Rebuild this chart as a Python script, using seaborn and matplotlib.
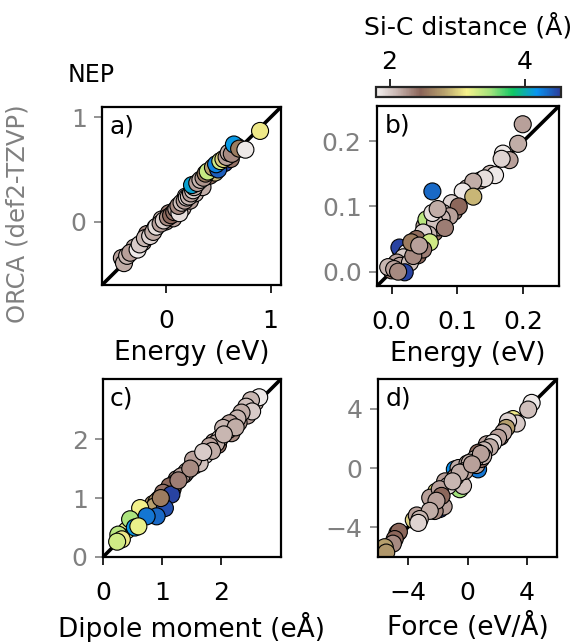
import numpy as np
import pandas as pd
import matplotlib
matplotlib.use("Agg")
import matplotlib.pyplot as plt
import seaborn as sns
from matplotlib.colors import LinearSegmentedColormap, Normalize
from matplotlib.cm import ScalarMappable

# ---------------- data (NEP on x, ORCA on y, Si-C distance as colour) -------------
energy_nep = [-0.42, -0.30, -0.22, -0.18, -0.10, -0.04, 0.00, 0.03, 0.07, 0.11, 0.16, 0.19,
              0.23, 0.28, 0.32, 0.35, 0.42, 0.47, 0.56, 0.62, 0.68,
              -0.40, -0.37, -0.34, -0.27, -0.25, -0.20, -0.15, -0.12, -0.09, -0.05, -0.02, 0.02,
              0.05, 0.08, 0.10, 0.13, 0.12, 0.15, 0.18, 0.20, 0.22, 0.24, 0.26, 0.27, 0.25, 0.30,
              0.33, 0.36, 0.38, 0.40, 0.45, 0.50, 0.48, 0.52, 0.55, 0.58, 0.60, 0.63, 0.65, 0.70,
              0.76, 0.90]
energy_orca = [-0.35, -0.25, -0.20, -0.12, -0.06, 0.02, 0.00, 0.08, 0.03, 0.10, 0.13, 0.24,
               0.20, 0.27, 0.35, 0.33, 0.44, 0.47, 0.56, 0.60, 0.72,
               -0.40, -0.33, -0.30, -0.27, -0.22, -0.16, -0.14, -0.10, -0.05, -0.02, 0.01, 0.04,
               0.06, 0.09, 0.12, 0.08, 0.15, 0.18, 0.20, 0.23, 0.24, 0.27, 0.30, 0.33, 0.35, 0.37,
               0.40, 0.42, 0.46, 0.48, 0.52, 0.50, 0.55, 0.58, 0.60, 0.62, 0.66, 0.65, 0.74, 0.70,
               0.69, 0.87]
energy_dist = [2.20, 2.15, 2.25, 2.30, 2.20, 2.10, 2.25, 2.35, 2.20, 2.45, 2.15, 2.00,
               2.20, 2.10, 2.20, 2.15, 2.50, 2.90, 4.50, 2.40, 2.05,
               2.15, 2.10, 2.20, 1.85, 2.00, 2.10, 1.95, 2.15, 1.90, 2.20, 2.00, 2.30,
               2.45, 2.40, 2.20, 1.90, 2.30, 2.05, 2.20, 1.95, 2.10, 2.20, 2.00, 2.15, 4.10, 2.20,
               2.10, 2.25, 2.60, 3.35, 2.80, 4.40, 4.25, 3.30, 3.00, 2.20, 2.15, 2.30, 4.15, 2.60,
               1.85, 3.10]

relen_nep = [0.005, 0.015, 0.025, 0.035, 0.045, 0.040, 0.015, 0.050, 0.095, 0.115, 0.135, 0.150,
             0.065, 0.072,
             0.199, 0.192, 0.169, 0.179, 0.167, 0.157, 0.141, 0.124, 0.108, 0.124, 0.062, 0.091,
             0.102, 0.078, 0.088, 0.076, 0.053, 0.066, 0.081, 0.056, 0.048, 0.038, 0.058, 0.048,
             0.012, 0.023, 0.018, 0.008, 0.000, -0.005, 0.013, 0.028, 0.033, 0.020, 0.030, 0.042,
             0.004, 0.010, 0.062, 0.070]
relen_orca = [0.010, 0.005, 0.020, 0.030, 0.050, 0.025, 0.030, 0.070, 0.092, 0.128, 0.140, 0.150,
              0.060, 0.068,
              0.226, 0.196, 0.181, 0.171, 0.173, 0.148, 0.143, 0.138, 0.123, 0.115, 0.123, 0.105,
              0.100, 0.090, 0.085, 0.082, 0.080, 0.075, 0.067, 0.057, 0.060, 0.050, 0.045, 0.034,
              0.037, 0.029, 0.022, 0.014, 0.002, 0.007, 0.009, 0.014, 0.024, -0.001, 0.045, 0.040,
              0.004, 0.000, 0.090, 0.096]
relen_dist = [2.30, 2.40, 2.15, 2.20, 2.00, 2.45, 2.60, 2.20, 2.30, 2.05, 2.20, 2.10,
              2.40, 2.20,
              2.20, 2.15, 1.85, 2.20, 1.95, 1.85, 1.90, 2.15, 1.85, 2.90, 4.35, 1.95,
              2.45, 2.00, 2.20, 2.10, 3.40, 2.05, 2.35, 2.10, 1.95, 2.50, 3.30, 2.35,
              4.50, 1.85, 2.00, 2.20, 2.40, 2.10, 2.20, 2.05, 2.30, 4.50, 2.60, 2.20,
              2.20, 2.30, 1.90, 2.15]

dip_nep = [0.80, 0.70, 0.50, 0.40, 0.30,
           2.58, 2.45, 2.30, 2.18, 2.10, 1.95, 1.88, 1.76, 1.60, 1.55, 1.38, 1.25, 1.18, 1.08,
           0.95, 0.85,
           2.65, 2.51, 2.43, 2.53, 2.35, 2.28, 2.15, 2.12, 2.04, 1.98, 1.92, 1.81, 1.73, 1.64,
           1.53, 1.42, 1.33, 1.22, 1.13, 1.02, 1.16, 0.91, 0.88, 1.05, 0.63, 0.91, 0.74, 0.46,
           0.54, 0.60, 0.26, 0.32, 0.24, 1.85, 1.70, 2.25, 1.48, 1.28, 0.98, 2.05]
dip_orca = [0.80, 0.78, 0.58, 0.45, 0.35,
            2.62, 2.40, 2.28, 2.10, 2.22, 1.90, 1.95, 1.80, 1.62, 1.55, 1.40, 1.32, 1.15, 1.12,
            0.98, 0.90,
            2.71, 2.66, 2.55, 2.47, 2.45, 2.35, 2.27, 2.15, 2.19, 2.01, 1.93, 1.88, 1.73, 1.59,
            1.65, 1.45, 1.37, 1.25, 1.20, 1.09, 1.06, 0.94, 0.86, 0.83, 0.83, 0.69, 0.69, 0.64,
            0.50, 0.52, 0.38, 0.30, 0.26, 1.80, 1.78, 2.20, 1.50, 1.30, 1.00, 2.08]
dip_dist = [4.45, 3.10, 3.35, 3.20, 3.40,
            2.15, 2.20, 2.25, 2.30, 2.10, 2.40, 2.20, 2.25, 2.30, 2.20, 2.25, 2.30, 2.50, 2.45,
            2.70, 2.75,
            1.85, 2.10, 2.05, 2.00, 2.15, 2.10, 2.20, 2.30, 2.10, 2.00, 2.15, 2.20, 1.90, 2.05,
            2.20, 2.10, 2.20, 2.30, 2.45, 2.40, 4.50, 2.70, 2.80, 4.45, 3.15, 4.35, 4.30, 3.45,
            4.15, 3.20, 3.40, 3.10, 3.30, 2.15, 2.00, 2.15, 2.30, 2.35, 2.60, 2.10]

force_nep = [0.71, -0.85, -0.10, -1.86, -0.52, 3.05, -2.10, -3.60, -4.70,
             -0.60, 0.60, 0.00, -1.60, -2.20, -0.30, 2.80, -2.50, -3.40, -4.60, 1.30, 0.90, 2.20,
             -1.50, -0.80, 3.30,
             4.30, 4.07, 2.72, 2.60, 2.40, 2.05, 1.72, 1.50, 1.10, 0.71, 1.05, 0.50, 0.15,
             -0.18, -0.52, -1.30, -1.86, -1.74, -2.08, -2.53,
             -3.20, -3.30, -4.88, -5.00, -5.55, -5.45, 0.90, -1.00, 0.30]
force_orca = [-0.09, -0.09, 0.10, -2.77, -1.43, 3.30, -1.60, -3.50, -4.40,
              0.00, 0.20, 0.30, -2.60, -2.90, -1.20, 3.00, -2.00, -3.20, -4.30, 1.60, 0.60, 2.10,
              -0.90, -0.60, 3.00,
              4.39, 3.94, 3.15, 2.70, 2.40, 2.04, 1.70, 1.40, 1.20, 1.03, 0.80, 0.60, 0.36,
              -0.20, -0.31, -1.20, -1.43, -1.88, -2.21, -2.89,
              -3.44, -3.70, -4.79, -5.10, -5.34, -5.70, 0.95, -0.90, 0.25]
force_dist = [4.30, 4.20, 4.20, 4.50, 3.50, 3.10, 3.10, 3.00, 3.20,
              2.15, 2.20, 2.10, 2.20, 2.30, 2.05, 1.90, 2.20, 2.20, 2.45, 2.20, 2.45, 2.30,
              2.20, 2.30, 2.00,
              1.85, 2.05, 1.95, 2.80, 2.15, 2.20, 1.90, 2.15, 2.10, 2.45, 2.15, 2.00, 2.15,
              2.20, 2.15, 1.95, 2.20, 2.45, 2.20, 2.15,
              2.10, 1.95, 2.45, 2.30, 2.80, 2.75, 2.20, 2.10, 2.20]

panel_labels = ["a)", "b)", "c)", "d)"]
x_labels = ["Energy (eV)", "Energy (eV)", "Dipole moment (eÅ)", "Force (eV/Å)"]
limits = [(-0.61, 1.10), (-0.022, 0.254), (0.0, 3.02), (-6.0, 6.0)]
ticks = [[0, 1], [0.0, 0.1, 0.2], [0, 1, 2], [-4, 0, 4]]
tick_fmt = ["{:.0f}", "{:.1f}", "{:.0f}", "{:.0f}"]
cbar_range = (1.80, 4.54)
cbar_ticks = [2, 4]

# ---------------- style -------------
sns.set_theme(style="white")
plt.rcParams["font.family"] = ["DejaVu Sans"]
plt.rcParams["text.color"] = "black"
plt.rcParams["axes.labelcolor"] = "black"
plt.rcParams["xtick.color"] = "black"
plt.rcParams["ytick.color"] = "black"

cmap = LinearSegmentedColormap.from_list(
    "sic",
    [(0.00, "#f4f1f1"), (0.12, "#c4b0ab"), (0.24, "#8a6458"), (0.37, "#b8a26e"),
     (0.49, "#f6f28c"), (0.62, "#a2e27c"), (0.74, "#10c864"), (0.87, "#0894f0"),
     (1.00, "#2b3b9a")])
norm = Normalize(*cbar_range)

W, H = 579, 642
fig = plt.figure(figsize=(W / 100, H / 100), dpi=100)

boxes = [(102, 107, 281, 285), (377, 106, 559, 286), (103, 379, 281, 557), (378, 379, 557, 557)]
datasets = [(energy_nep, energy_orca, energy_dist), (relen_nep, relen_orca, relen_dist),
            (dip_nep, dip_orca, dip_dist), (force_nep, force_orca, force_dist)]

for i, ((l, t, r, b), (xv, yv, dv)) in enumerate(zip(boxes, datasets)):
    ax = fig.add_axes([l / W, 1 - b / H, (r - l) / W, (b - t) / H])
    lo, hi = limits[i]
    ax.plot([lo, hi], [lo, hi], color="black", lw=2.6, zorder=0.5, solid_capstyle="butt")
    df = pd.DataFrame({"nep": xv, "orca": yv, "dist": dv})
    sns.scatterplot(data=df, x="nep", y="orca", hue="dist", palette=cmap, hue_norm=norm,
                    s=150, edgecolor="black", linewidth=0.8, legend=False, ax=ax, zorder=2)
    ax.set_xlim(lo, hi)
    ax.set_ylim(lo, hi)
    ax.set_xticks(ticks[i])
    ax.set_yticks(ticks[i])
    ax.set_xticklabels([tick_fmt[i].format(v).replace("-", "\u2212") for v in ticks[i]])
    ax.set_yticklabels([tick_fmt[i].format(v).replace("-", "\u2212") for v in ticks[i]])
    ax.tick_params(axis="x", colors="black", length=6, width=1.2, direction="out",
                   bottom=True, labelsize=18, pad=11)
    ax.tick_params(axis="y", colors="gray", length=6, width=1.2, direction="out",
                   left=True, labelsize=18, pad=5)
    ax.set_xlabel(x_labels[i], fontsize=19, color="black", labelpad=5)
    ax.set_ylabel("")
    for sp in ax.spines.values():
        sp.set_color("black")
        sp.set_linewidth(1.6)
    ax.text(0.04, 0.96, panel_labels[i], transform=ax.transAxes, ha="left", va="top",
            fontsize=18, color="black")

# colour bar
cax = fig.add_axes([376 / W, 1 - 97 / H, 185 / W, 10.5 / H])
sm = ScalarMappable(norm=norm, cmap=cmap)
cb = fig.colorbar(sm, cax=cax, orientation="horizontal")
cb.set_ticks(cbar_ticks)
cax.xaxis.set_ticks_position("top")
cax.xaxis.set_label_position("top")
cax.tick_params(axis="x", length=6, width=1.2, labelsize=18, pad=3, colors="black")
cb.set_label("Si-C distance (Å)", fontsize=18, labelpad=11, color="black")
cb.outline.set_linewidth(1.6)

fig.text(68 / W, 1 - 75 / H, "NEP", ha="left", va="center", fontsize=17, color="black")
fig.text(18 / W, 1 - 214 / H, "ORCA (def2-TZVP)", rotation=90, ha="center", va="center",
         fontsize=17.5, color="gray")

fig.savefig("out.png", dpi=100)
